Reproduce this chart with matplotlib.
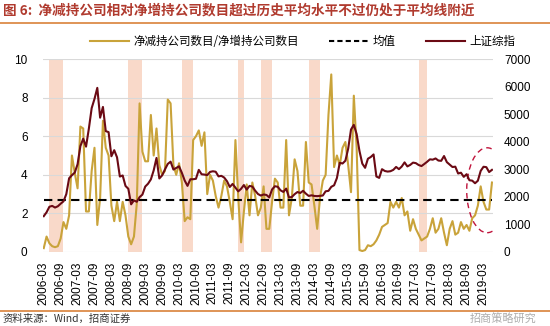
# Net reducers / net increasers ratio vs. SSE Composite, monthly 2006-03 .. 2019-06

import matplotlib
matplotlib.use("Agg")

import matplotlib.pyplot as plt
from matplotlib.patches import Ellipse
from matplotlib.lines import Line2D
import pandas as pd

plt.rcParams["font.family"] = ["Liberation Sans", "Noto Sans CJK SC", "DejaVu Sans"]

months = pd.period_range("2006-03", "2019-06", freq="M").strftime("%Y-%m").tolist()

# 净减持公司数目/净增持公司数目 (left axis)
ratio = [
    0.2, 0.8, 0.45, 0.3, 0.25, 0.3, 0.7, 1.55, 1.2, 1.9,
    5.0, 4.1, 3.3, 6.5, 6.4, 2.1, 2.1, 4.2, 5.4, 1.4,
    2.8, 6.8, 5.4, 5.0, 2.4, 1.6, 2.6, 1.6, 2.6, 1.9,
    0.8, 0.4, 0.8, 2.5, 7.7, 5.2, 4.7, 4.7, 7.1, 5.0,
    6.4, 4.5, 4.0, 4.2, 7.9, 7.7, 4.5, 4.0, 4.6, 3.6,
    1.6, 1.8, 1.7, 5.8, 6.0, 6.3, 5.5, 6.2, 3.0, 4.0,
    3.7, 2.9, 2.3, 2.9, 3.7, 3.4, 2.6, 1.7, 5.8, 2.8,
    0.5, 2.1, 3.5, 1.9, 3.6, 2.9, 1.9, 2.3, 3.4, 1.2,
    1.2, 2.6, 3.8, 3.6, 2.3, 2.3, 5.8, 1.9, 2.8, 4.8,
    4.2, 2.4, 2.4, 5.7, 3.6, 3.5, 2.4, 1.2, 2.8, 3.7,
    4.0, 7.1, 9.2, 4.4, 5.0, 4.5, 5.4, 5.7, 4.5, 3.1,
    8.1, 5.4, 0.1, 0.05, 0.1, 0.35, 0.3, 0.4, 0.6, 0.9,
    1.3, 1.4, 1.5, 2.6, 2.3, 2.6, 2.3, 2.8, 1.9, 2.1,
    1.1, 1.7, 1.2, 0.9, 0.6, 0.7, 0.8, 1.2, 1.75, 1.0,
    1.2, 1.75, 1.0, 0.35, 1.2, 1.6, 0.9, 1.0, 1.55, 1.2,
    1.4, 1.1, 1.75, 1.9, 2.4, 3.4, 2.6, 2.2, 2.2, 3.6,
]
ratio_mean = 2.7

# 上证综指 month-end close (right axis)
sse = [
    1299, 1440, 1641, 1672, 1612, 1658, 1752, 1837, 2099, 2675,
    2786, 2881, 3183, 3841, 4109, 3821, 4471, 5218, 5552, 5954, 4871, 5262,
    4383, 4348, 3473, 3693, 3433, 2736, 2776, 2397, 2293, 1729, 1871, 1821,
    1991, 2082, 2373, 2477, 2633, 2959, 3412, 2667, 2779, 2996, 3195, 3277,
    2989, 3051, 3109, 2870, 2592, 2398, 2638, 2639, 2656, 2979, 2820, 2808,
    2790, 2905, 2928, 2911, 2743, 2762, 2701, 2568, 2359, 2469, 2333, 2199,
    2292, 2428, 2263, 2397, 2373, 2225, 2103, 2047, 2086, 2069, 1980, 2269,
    2385, 2366, 2237, 2178, 2301, 1979, 1994, 2098, 2175, 2141, 2220, 2116,
    2033, 2056, 2033, 2026, 2039, 2048, 2202, 2217, 2364, 2420, 2683, 3235,
    3210, 3310, 3748, 4442, 4612, 4277, 3664, 3206, 3053, 3383, 3445, 3539,
    2738, 2688, 3004, 2938, 2917, 2930, 2979, 3085, 3005, 3100, 3250, 3104,
    3159, 3242, 3223, 3155, 3117, 3192, 3273, 3361, 3349, 3393, 3317, 3307,
    3481, 3259, 3169, 3082, 3095, 2847, 2876, 2725, 2821, 2603, 2588, 2494,
    2585, 2941, 3091, 3078, 2899, 2979,
]

# shaded periods (start, end month)
bands = [
    ("2006-05", "2006-10"), ("2008-09", "2009-02"), ("2010-04", "2010-08"),
    ("2011-12", "2012-02"), ("2012-08", "2012-12"), ("2014-01", "2014-05"),
    ("2017-04", "2017-07"),
]

GOLD = "#C9A33A"
DARK = "#6B0A14"
BAND = "#F9D9C9"
TITLE = "#B03A2E"
RULE = "#D9813A"
CJK = ["Noto Sans CJK SC", "DejaVu Sans"]

x = list(range(len(months)))

fig = plt.figure(figsize=(5.5, 3.26), dpi=100)
ax = fig.add_axes([0.078, 0.227, 0.818, 0.592])
ax2 = ax.twinx()

for a, b in bands:
    ax.axvspan(months.index(a), months.index(b), color=BAND, lw=0, zorder=0)

ax.set_ylim(0, 10)
ax.set_yticks(range(0, 11, 2))
ax.grid(axis="y", color="#D9D9D9", lw=0.8)
ax.set_axisbelow(True)
ax.plot(x, ratio, color=GOLD, lw=1.5, zorder=3)
ax.plot([x[0], x[-1]], [ratio_mean, ratio_mean], "--", color="black", lw=1.5,
        dashes=(4, 2.5), zorder=4)

ax2.set_ylim(0, 7000)
ax2.set_yticks(range(0, 7001, 1000))
ax2.plot(x, sse, color=DARK, lw=1.5, zorder=3)

ax.set_xlim(-0.3, len(months) - 0.7)
ax.set_xticks(x[::6])
ax.set_xticklabels(months[::6], rotation=90, fontsize=8)
for a in (ax, ax2):
    for s in a.spines.values():
        s.set_visible(False)
    a.tick_params(length=0, labelsize=8.5)
ax.tick_params(axis="y", pad=11)
ax.tick_params(axis="x", pad=7)
ax2.tick_params(axis="y", pad=8)

# red dashed ellipse round the last months
ell = Ellipse((157.3, 3.2), width=14.5, height=4.4, fill=False,
              edgecolor="#C0143C", ls=(0, (4, 3)), lw=1.0, zorder=5)
ax.add_patch(ell)

handles = [
    Line2D([], [], color=GOLD, lw=1.5),
    Line2D([], [], color="black", lw=1.5, ls="--", dashes=(2.5, 1.5)),
    Line2D([], [], color=DARK, lw=1.5),
]
labels = ["净减持公司数目/净增持公司数目", "均值", "上证综指"]
fig.legend(handles, labels, loc="center", bbox_to_anchor=(0.55, 0.872), ncol=3,
           frameon=False, handlelength=3.4, columnspacing=2.6,
           handletextpad=0.4, prop={"family": CJK, "size": 8.3})

fig.text(0.006, 0.967, "图 6:  净减持公司相对净增持公司数目超过历史平均水平不过仍处于平均线附近",
         color=TITLE, fontsize=9.8, fontweight="bold", va="center", family=CJK)
fig.add_artist(Line2D([0, 1], [0.93, 0.93], color=RULE, lw=1.2))
fig.add_artist(Line2D([0, 1], [0.046, 0.046], color=RULE, lw=1.2))
fig.text(0.004, 0.022, "资料来源：Wind，招商证券", color="#333333", fontsize=7.5,
         va="center", family=CJK)
fig.text(0.975, 0.022, "招商策略研究", color="#9A9A9A", alpha=0.8, fontsize=8,
         va="center", ha="right", family=CJK)

fig.savefig("out.png", dpi=100)
